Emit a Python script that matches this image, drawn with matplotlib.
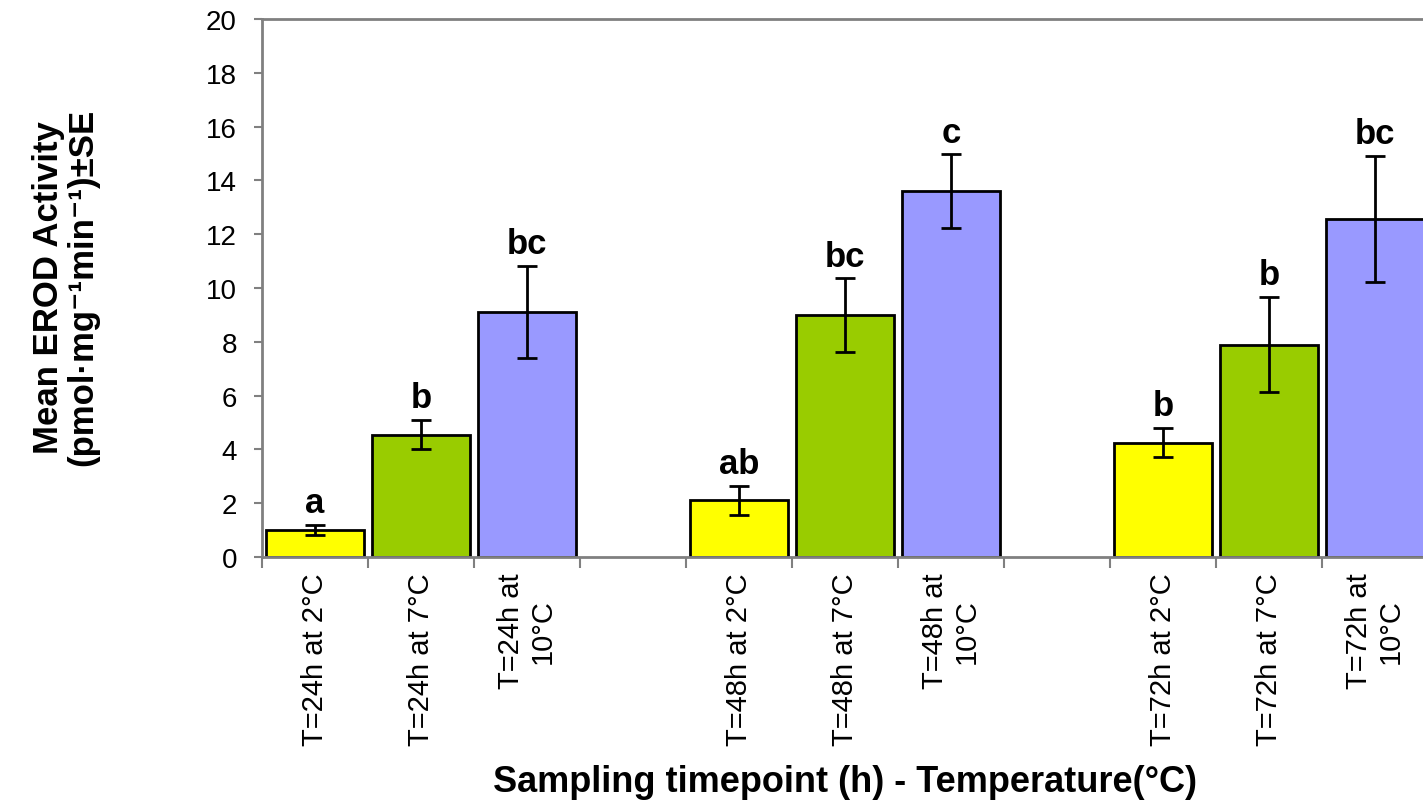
import matplotlib.pyplot as plt
import numpy as np

plt.rcParams['font.family'] = ['Liberation Sans', 'DejaVu Sans']

# Data
timepoints = ['24h', '48h', '72h']
temperatures = ['2°C', '7°C', '10°C']
mean_erod = [[1.0, 4.55, 9.1],
             [2.1, 9.0, 13.6],
             [4.25, 7.9, 12.57]]
se_erod = [[0.2, 0.55, 1.72],
           [0.55, 1.37, 1.37],
           [0.55, 1.77, 2.34]]
letters = [['a', 'b', 'bc'],
           ['ab', 'bc', 'c'],
           ['b', 'b', 'bc']]
tick_labels = [['T=24h at 2°C', 'T=24h at 7°C', 'T=24h at\n10°C'],
               ['T=48h at 2°C', 'T=48h at 7°C', 'T=48h at\n10°C'],
               ['T=72h at 2°C', 'T=72h at 7°C', 'T=72h at\n10°C']]
colors = ['#FFFF00', '#99CC00', '#9999FF']

fig = plt.figure(figsize=(14.23, 8.04), dpi=100)
ax = fig.add_axes([0.1841, 0.306, 0.8194, 0.669])

gap = len(temperatures) + 1
for g in range(len(timepoints)):
    pos = np.arange(len(temperatures)) + g * gap
    ax.bar(pos, mean_erod[g], width=0.92, color=colors, edgecolor='black',
           linewidth=2, zorder=2)
    ax.errorbar(pos, mean_erod[g], yerr=se_erod[g], fmt='none', ecolor='black',
                elinewidth=2, capsize=7.5, capthick=2, zorder=3)
    for x, m, s, lab in zip(pos, mean_erod[g], se_erod[g], letters[g]):
        ax.annotate(lab, (x, m + s), xytext=(0, 9), textcoords='offset points',
                    ha='center', va='baseline', fontsize=25, fontweight='bold')

n_slots = len(timepoints) * gap - 1
ax.set_xlim(-0.5, n_slots - 0.5)
ax.set_ylim(0, 20)
ax.set_yticks(np.arange(0, 21, 2))

pos_all = [g * gap + i for g in range(len(timepoints)) for i in range(len(temperatures))]
labels_all = [l for row in tick_labels for l in row]
ax.set_xticks(pos_all)
ax.set_xticklabels(labels_all, rotation=90, ha='center', va='top',
                   multialignment='center', fontsize=21)
ax.set_xticks(np.arange(-0.5, n_slots, 1), minor=True)
ax.tick_params(axis='x', which='major', length=0, pad=11)
ax.tick_params(axis='x', which='minor', length=8, width=1.5, color='#808080')
ax.tick_params(axis='y', length=6, width=1.5, color='#808080', labelsize=20, pad=12)

for side in ['left', 'bottom', 'top']:
    ax.spines[side].set_color('#808080')
    ax.spines[side].set_linewidth(2)
ax.spines['right'].set_visible(False)

ax.set_xlabel('Sampling timepoint (h) - Temperature(°C)', fontsize=26,
              fontweight='bold', labelpad=14)
fig.text(0.046, 0.642, 'Mean EROD Activity\n(pmol·mg⁻¹min⁻¹)±SE', rotation=90,
         ha='center', va='center', multialignment='center', fontsize=25,
         fontweight='bold', linespacing=1.05)

plt.savefig('out.png', dpi=100)
